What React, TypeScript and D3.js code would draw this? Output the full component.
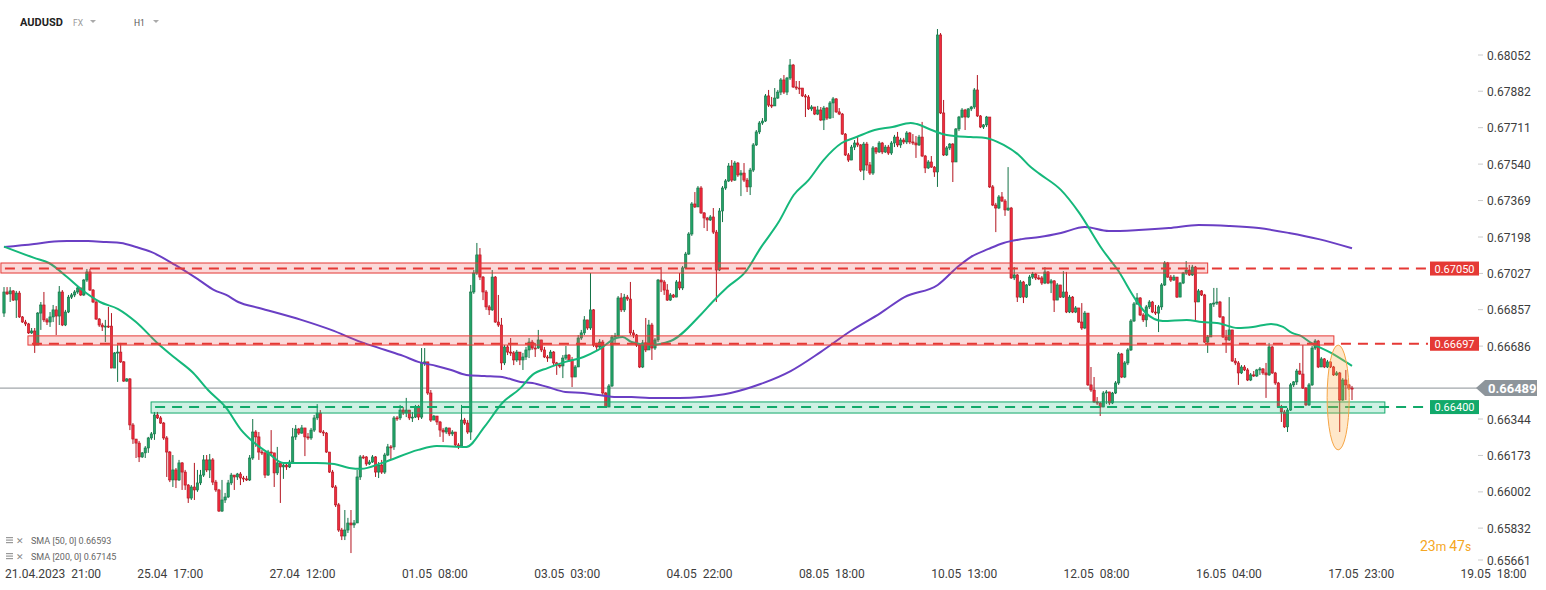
import React from "react";
import * as d3 from "d3";

const W = 1546;
const H = 590;

// ---------- DATA ----------
const firstOpen = 0.66841;

const closes = [
0.66940,0.66931,0.66945,0.66902,0.66935,0.66823,0.66799,0.66790,0.66748,0.66757,
0.66691,0.66841,0.66879,0.66809,0.66799,0.66823,0.66856,0.66827,0.66940,0.66785,
0.66846,0.66916,0.66926,0.66940,0.66959,0.66926,0.66996,0.67034,0.66949,0.66893,
0.66813,0.66785,0.66776,0.66780,0.66780,0.66583,0.66654,0.66658,0.66612,0.66522,
0.66532,0.66316,0.66250,0.66231,0.66166,0.66185,0.66208,0.66255,0.66274,0.66363,
0.66349,0.66325,0.66255,0.66189,0.66058,0.66105,0.66058,0.66138,0.66095,0.66034,
0.65973,0.66025,0.66011,0.66044,0.66081,0.66152,0.66105,0.66152,0.66048,0.66011,
0.65912,0.65964,0.65978,0.66044,0.66081,0.66072,0.66086,0.66067,0.66063,0.66058,
0.66161,0.66283,0.66260,0.66189,0.66185,0.66081,0.66189,0.66185,0.66091,0.66138,
0.66119,0.66128,0.66119,0.66142,0.66260,0.66297,0.66278,0.66302,0.66260,0.66255,
0.66292,0.66349,0.66372,0.66283,0.66278,0.66189,0.66095,0.66025,0.65941,0.65823,
0.65795,0.65823,0.65856,0.65847,0.65856,0.66072,0.66166,0.66166,0.66133,0.66142,
0.66166,0.66095,0.66128,0.66095,0.66175,0.66213,0.66213,0.66349,0.66349,0.66386,
0.66372,0.66386,0.66349,0.66353,0.66400,0.66353,0.66607,0.66612,0.66466,0.66339,
0.66358,0.66330,0.66292,0.66283,0.66302,0.66274,0.66283,0.66222,0.66217,
0.66339,0.66325,0.66283,0.66940,0.67029,0.67114,0.67010,0.66940,0.66870,0.66856,
0.67010,0.66799,0.66785,0.66607,0.66682,0.66658,0.66654,0.66621,0.66658,0.66621,
0.66635,0.66668,0.66705,0.66677,0.66677,0.66715,0.66668,0.66635,0.66630,0.66658,
0.66607,0.66597,0.66593,0.66630,0.66644,0.66621,0.66541,0.66588,0.66724,0.66748,
0.66809,0.66771,0.66856,0.66691,0.66682,0.66705,0.66466,0.66400,0.66499,0.66729,
0.66734,0.66912,0.66856,0.66916,0.66907,0.66748,0.66738,0.66691,0.66588,0.66701,
0.66668,0.66785,0.66677,0.66715,0.66996,0.66987,0.66949,0.66902,0.66926,0.66916,
0.66987,0.66959,0.67053,0.67118,0.67212,0.67353,0.67339,0.67428,0.67311,
0.67287,0.67278,0.67292,0.67221,0.67043,0.67320,0.67428,0.67461,0.67531,0.67465,
0.67545,0.67489,0.67498,0.67465,0.67433,0.67512,0.67630,0.67691,0.67733,
0.67742,0.67860,0.67817,0.67813,0.67850,0.67878,0.67935,0.67878,0.67944,0.68005,
0.67902,0.67897,0.67897,0.67860,0.67855,0.67799,0.67808,0.67775,0.67794,
0.67747,0.67803,0.67756,0.67827,0.67846,0.67785,0.67775,0.67681,0.67583,0.67559,
0.67620,0.67639,0.67630,0.67512,0.67634,0.67536,0.67498,0.67616,0.67597,
0.67639,0.67597,0.67620,0.67592,0.67639,0.67667,0.67630,0.67653,0.67644,0.67686,
0.67644,0.67639,0.67630,0.67667,0.67578,0.67522,0.67550,0.67526,0.67503,0.68146,
0.67780,0.67583,0.67616,0.67634,0.67550,0.67705,0.67761,0.67794,0.67761,0.67799,
0.67808,0.67888,0.67766,0.67714,0.67724,0.67761,0.67433,0.67348,0.67334,
0.67386,0.67367,0.67325,0.67334,0.67006,0.67020,0.66916,0.66987,0.66916,0.66973,
0.67010,0.67024,0.67006,0.67006,0.66982,0.67034,0.66982,0.66992,0.66902,
0.66973,0.66916,0.66940,0.66846,0.66916,0.66846,0.66865,0.66799,0.66771,0.66841,
0.66504,0.66480,0.66424,0.66419,0.66400,0.66466,0.66471,0.66419,0.66466,
0.66513,0.66649,0.66541,0.66607,0.66668,0.66804,0.66884,0.66912,0.66832,0.66809,
0.66870,0.66893,0.66846,0.66841,0.66870,0.66973,0.67076,0.67010,0.66996,0.67010,
0.66916,0.66982,0.67029,0.67043,0.67020,0.67057,0.66893,0.66945,0.66926,
0.66705,0.66729,0.66884,0.66888,0.66893,0.66823,0.66729,0.66715,0.66762,0.66616,
0.66607,0.66560,0.66588,0.66574,0.66527,0.66551,0.66546,0.66574,0.66579,
0.66560,0.66551,0.66682,0.66560,0.66513,0.66400,0.66377,0.66307,0.66386,0.66504,
0.66518,0.66569,0.66555,0.66489,0.66410,0.66504,0.66677,0.66710,0.66588,0.66626,
0.66588,0.66612,0.66588,0.66551,0.66560,0.66433,0.66527,0.66504,0.66489,0.66489
];

const highs = [
0.66963,0.66963,0.66963,0.66949,0.66945,0.66945,0.66827,0.66809,0.66795,0.66771,
0.66771,0.66846,0.66893,0.66940,0.66818,0.66846,0.66879,0.66874,0.66968,0.66949,
0.66856,0.66926,0.66935,0.66949,0.66968,0.66959,0.67001,0.67048,0.67048,0.66954,
0.66902,0.66818,0.66795,0.66809,0.66870,0.66841,0.66658,0.66691,0.66701,0.66616,
0.66536,0.66536,0.66325,0.66250,0.66241,0.66189,0.66217,0.66260,0.66283,0.66377,
0.66377,0.66358,0.66330,0.66264,0.66194,0.66175,0.66114,0.66152,0.66142,0.66105,
0.66039,0.66034,0.66138,0.66105,0.66105,0.66175,0.66175,0.66180,0.66161,0.66058,
0.66016,0.66058,0.65997,0.66058,0.66091,0.66081,0.66091,0.66095,0.66077,0.66077,
0.66175,0.66344,0.66292,0.66283,0.66199,0.66189,0.66199,0.66292,0.66185,0.66213,
0.66142,0.66142,0.66138,0.66152,0.66302,0.66316,0.66302,0.66316,0.66302,0.66278,
0.66302,0.66363,0.66414,0.66386,0.66292,0.66283,0.66189,0.66105,0.66034,0.65950,
0.65833,0.65917,0.65880,0.65917,0.65870,0.66105,0.66175,0.66175,0.66170,0.66152,
0.66175,0.66170,0.66142,0.66152,0.66185,0.66227,0.66222,0.66358,0.66358,0.66410,
0.66400,0.66443,0.66386,0.66377,0.66410,0.66410,0.66677,0.66677,0.66569,0.66480,
0.66363,0.66358,0.66335,0.66302,0.66307,0.66302,0.66292,0.66283,0.66231,
0.66410,0.66349,0.66339,0.66973,0.67043,0.67170,0.67146,0.67015,0.66949,0.66879,
0.67043,0.67015,0.66926,0.66818,0.66691,0.66691,0.66724,0.66663,0.66668,0.66658,
0.66654,0.66682,0.66724,0.66715,0.66701,0.66762,0.66715,0.66682,0.66644,0.66668,
0.66663,0.66612,0.66607,0.66644,0.66687,0.66649,0.66635,0.66597,0.66738,0.66762,
0.66827,0.66809,0.67029,0.66860,0.66701,0.66719,0.66715,0.66471,0.66508,0.66738,
0.66748,0.66921,0.66935,0.66931,0.66926,0.66987,0.66762,0.66743,0.66696,0.66715,
0.66818,0.66809,0.66795,0.66724,0.67001,0.67057,0.66996,0.66977,0.66935,0.66931,
0.66996,0.67029,0.67062,0.67128,0.67221,0.67362,0.67409,0.67437,0.67437,
0.67315,0.67292,0.67301,0.67334,0.67231,0.67334,0.67437,0.67470,0.67545,0.67559,
0.67555,0.67550,0.67512,0.67545,0.67475,0.67522,0.67639,0.67700,0.67742,
0.67756,0.67869,0.67888,0.67855,0.67897,0.67888,0.67944,0.67958,0.67949,0.68033,
0.68010,0.67930,0.67930,0.67897,0.67869,0.67864,0.67817,0.67808,0.67813,
0.67808,0.67813,0.67808,0.67836,0.67855,0.67850,0.67803,0.67780,0.67686,0.67592,
0.67630,0.67653,0.67667,0.67634,0.67644,0.67644,0.67550,0.67625,0.67620,
0.67648,0.67644,0.67630,0.67630,0.67648,0.67677,0.67691,0.67663,0.67663,0.67695,
0.67691,0.67681,0.67672,0.67677,0.67738,0.67583,0.67559,0.67578,0.67531,0.68174,
0.68155,0.67841,0.67625,0.67639,0.67639,0.67709,0.67766,0.67803,0.67799,0.67803,
0.67813,0.67897,0.67958,0.67770,0.67728,0.67766,0.67761,0.67442,0.67358,
0.67395,0.67409,0.67376,0.67526,0.67339,0.67057,0.67024,0.66996,0.66992,0.66977,
0.67020,0.67034,0.67029,0.67020,0.67015,0.67057,0.67038,0.67001,0.66996,
0.66982,0.66973,0.67038,0.67034,0.66926,0.66921,0.66874,0.66860,0.66888,0.66851,
0.66809,0.66588,0.66541,0.66447,0.66424,0.66475,0.66480,0.66466,0.66471,
0.66522,0.66658,0.66654,0.66616,0.66677,0.66813,0.66893,0.66935,0.66916,0.66841,
0.66879,0.66902,0.66898,0.66879,0.66879,0.66982,0.67085,0.67081,0.67020,0.67020,
0.66996,0.66987,0.67034,0.67085,0.67067,0.67067,0.67062,0.66954,0.66949,
0.66931,0.66738,0.66888,0.66959,0.66959,0.66898,0.66827,0.66762,0.66916,0.66762,
0.66630,0.66616,0.66597,0.66597,0.66583,0.66560,0.66569,0.66579,0.66588,
0.66583,0.66607,0.66701,0.66687,0.66565,0.66518,0.66410,0.66386,0.66396,0.66513,
0.66522,0.66579,0.66607,0.66691,0.66494,0.66513,0.66687,0.66719,0.66715,0.66635,
0.66630,0.66621,0.66616,0.66593,0.66569,0.66565,0.66536,0.66574,0.66508,0.66499
];

const lows = [
0.66823,0.66926,0.66893,0.66898,0.66818,0.66818,0.66795,0.66780,0.66743,0.66743,
0.66654,0.66691,0.66762,0.66799,0.66785,0.66776,0.66799,0.66738,0.66785,0.66780,
0.66780,0.66841,0.66907,0.66916,0.66931,0.66921,0.66921,0.66987,0.66945,0.66888,
0.66809,0.66776,0.66757,0.66705,0.66771,0.66583,0.66583,0.66518,0.66607,0.66518,
0.66518,0.66292,0.66227,0.66161,0.66142,0.66161,0.66161,0.66185,0.66246,0.66246,
0.66344,0.66321,0.66246,0.66072,0.66048,0.66025,0.66020,0.66053,0.66011,0.66011,
0.65950,0.65964,0.65964,0.66002,0.66034,0.66072,0.66095,0.66067,0.66034,0.66002,
0.65908,0.65908,0.65950,0.65973,0.66034,0.66011,0.66058,0.66034,0.66048,0.66053,
0.66053,0.66152,0.66213,0.66152,0.66175,0.66067,0.66077,0.66175,0.66025,0.66081,
0.65950,0.66063,0.66105,0.66114,0.66138,0.66246,0.66269,0.66274,0.66170,0.66246,
0.66246,0.66283,0.66339,0.66278,0.66264,0.66185,0.66091,0.66020,0.65931,0.65814,
0.65776,0.65776,0.65809,0.65715,0.65833,0.65856,0.66058,0.66156,0.66124,0.66128,
0.66138,0.66072,0.66067,0.66086,0.66086,0.66170,0.66152,0.66199,0.66335,0.66339,
0.66363,0.66353,0.66339,0.66330,0.66349,0.66339,0.66344,0.66593,0.66457,0.66330,
0.66339,0.66316,0.66260,0.66236,0.66274,0.66264,0.66264,0.66213,0.66203,
0.66217,0.66316,0.66274,0.66246,0.66931,0.67020,0.66996,0.66902,0.66856,0.66832,
0.66851,0.66795,0.66776,0.66574,0.66597,0.66644,0.66640,0.66597,0.66612,0.66597,
0.66574,0.66621,0.66630,0.66668,0.66635,0.66673,0.66658,0.66630,0.66612,0.66630,
0.66597,0.66551,0.66583,0.66536,0.66621,0.66612,0.66494,0.66541,0.66588,0.66715,
0.66738,0.66762,0.66762,0.66682,0.66668,0.66673,0.66457,0.66396,0.66400,0.66494,
0.66701,0.66724,0.66846,0.66846,0.66898,0.66738,0.66724,0.66682,0.66583,0.66583,
0.66658,0.66668,0.66621,0.66668,0.66705,0.66940,0.66926,0.66898,0.66898,0.66912,
0.66916,0.66949,0.66949,0.67048,0.67114,0.67203,0.67334,0.67339,0.67306,
0.67240,0.67226,0.67273,0.67212,0.66893,0.67038,0.67268,0.67419,0.67456,0.67456,
0.67461,0.67480,0.67390,0.67456,0.67409,0.67395,0.67503,0.67625,0.67681,
0.67724,0.67738,0.67808,0.67803,0.67813,0.67846,0.67864,0.67869,0.67864,0.67935,
0.67897,0.67888,0.67869,0.67855,0.67761,0.67794,0.67789,0.67770,0.67770,
0.67742,0.67700,0.67747,0.67752,0.67756,0.67780,0.67770,0.67677,0.67578,0.67550,
0.67559,0.67606,0.67620,0.67503,0.67465,0.67508,0.67489,0.67489,0.67587,
0.67592,0.67587,0.67592,0.67583,0.67583,0.67620,0.67620,0.67616,0.67634,0.67634,
0.67634,0.67630,0.67569,0.67625,0.67573,0.67498,0.67517,0.67522,0.67480,0.67433,
0.67775,0.67578,0.67578,0.67606,0.67456,0.67550,0.67695,0.67756,0.67700,0.67756,
0.67789,0.67799,0.67761,0.67709,0.67705,0.67714,0.67428,0.67343,0.67221,
0.67329,0.67362,0.67297,0.67320,0.67001,0.66996,0.66893,0.66912,0.66888,0.66912,
0.66968,0.67001,0.66996,0.66996,0.66973,0.66977,0.66977,0.66935,0.66846,
0.66902,0.66912,0.66912,0.66841,0.66841,0.66841,0.66841,0.66795,0.66762,0.66766,
0.66499,0.66471,0.66419,0.66410,0.66358,0.66400,0.66414,0.66410,0.66414,
0.66461,0.66504,0.66536,0.66536,0.66597,0.66663,0.66799,0.66879,0.66827,0.66799,
0.66776,0.66860,0.66841,0.66832,0.66752,0.66856,0.66968,0.67006,0.66987,0.66992,
0.66912,0.66916,0.66977,0.67020,0.67015,0.67015,0.66799,0.66893,0.66921,
0.66701,0.66654,0.66729,0.66870,0.66879,0.66818,0.66724,0.66654,0.66710,0.66612,
0.66597,0.66504,0.66555,0.66569,0.66522,0.66522,0.66541,0.66541,0.66551,
0.66551,0.66443,0.66546,0.66555,0.66504,0.66396,0.66330,0.66302,0.66283,0.66382,
0.66494,0.66504,0.66551,0.66485,0.66405,0.66405,0.66499,0.66668,0.66583,0.66588,
0.66583,0.66583,0.66583,0.66546,0.66546,0.66283,0.66429,0.66433,0.66480,0.66433
];

// SMA 50 (positions in trading hours from 21.04 21:00)
const sma50Hour = [-11,-1.2,3.6,9.5,14.4,20.2,26.1,31.9,38.8,44.6,50.5,55.3,61.2,66.1,70,74.8,79.7,85.6,90.5,96.3,101.2,105.1,111.9,123.6,129.5,139.2,145.1,150.9,156.8,160.7,165.6,171.4,177.3,182.1,188,190,192.9,198.7,205.6,215.3,219.2,224.1,229.9,234.8,240.7,245.6,250.4,255.3,261.2,266,271.9,277.7,283.6,285.6,290.4,295.3,303.1,308,313.8,318.7,322.6,325.5,332.4,338.2,346,350.9,356.8,359.7,365.5,373.3,378.2,383.1,389.9,394.8,400.7,404.6,407.5,410.4,413.3,420.2,427];
const sma50Val = [0.67153,0.67100,0.67076,0.67010,0.66949,0.66893,0.66860,0.66799,0.66701,0.66630,0.66560,0.66480,0.66396,0.66292,0.66236,0.66185,0.66138,0.66138,0.66138,0.66133,0.66114,0.66110,0.66138,0.66199,0.66217,0.66213,0.66307,0.66419,0.66489,0.66551,0.66583,0.66612,0.66635,0.66668,0.66724,0.66729,0.66705,0.66691,0.66710,0.66832,0.66893,0.66963,0.67034,0.67146,0.67268,0.67395,0.67465,0.67559,0.67639,0.67667,0.67700,0.67714,0.67733,0.67728,0.67700,0.67677,0.67667,0.67663,0.67630,0.67583,0.67526,0.67494,0.67419,0.67315,0.67137,0.67043,0.66902,0.66846,0.66804,0.66809,0.66799,0.66795,0.66771,0.66776,0.66790,0.66776,0.66748,0.66734,0.66705,0.66654,0.66593];

// SMA 200
const sma200Hour = [-11,-1.2,3.6,9.5,16.3,22.2,27,31.9,36.8,44.6,52.4,57.3,61.2,65.1,71.9,85.6,95.3,105.1,112.9,118.7,123.6,129.5,134.3,139.2,145.1,150.9,156.8,160.7,165.6,171.4,177.3,182.1,188,192.9,198.7,208.5,215.3,225.1,234.8,244.6,254.3,264.1,273.8,281.6,292.4,299.2,303.1,308.9,313.8,319.7,325.5,332.4,340.2,348,357.7,367.5,377.2,387,396.7,406.5,416.2,427];
const sma200Val = [0.67151,0.67165,0.67174,0.67179,0.67179,0.67174,0.67170,0.67151,0.67128,0.67067,0.66996,0.66949,0.66926,0.66893,0.66865,0.66809,0.66762,0.66705,0.66668,0.66640,0.66612,0.66593,0.66574,0.66551,0.66546,0.66541,0.66518,0.66513,0.66494,0.66471,0.66466,0.66457,0.66447,0.66447,0.66443,0.66443,0.66447,0.66466,0.66508,0.66569,0.66658,0.66757,0.66841,0.66916,0.66973,0.67062,0.67104,0.67142,0.67170,0.67188,0.67198,0.67217,0.67245,0.67226,0.67231,0.67240,0.67254,0.67250,0.67240,0.67217,0.67188,0.67145];

// Support / resistance zones (extent in candle index)
const zoneLevel = [0.67050, 0.66697, 0.66400];
const zoneTop = [0.67076, 0.66734, 0.66424];
const zoneBottom = [0.67029, 0.66691, 0.66372];
const zoneFrom = [-1, 7.8, 47.9];
const zoneTo = [392, 433.1, 449.7];
const zoneType = ["res", "res", "sup"];

const lastPrice = 0.66489;
const ellipseIdx = [430.9, 438.1];
const ellipsePrice = [0.66691, 0.66199];

const priceTicks = [0.68052, 0.67882, 0.67711, 0.6754, 0.67369, 0.67198, 0.67027, 0.66857, 0.66686, 0.66515, 0.66344, 0.66173, 0.66002, 0.65832, 0.65661];
const timeTickHours = [0, 43, 86, 129, 172, 215, 258, 301, 344, 387, 430, 473];
const timeTickLabels = ["21.04.2023  21:00", "25.04  17:00", "27.04  12:00", "01.05  08:00", "03.05  03:00", "04.05  22:00", "08.05  18:00", "10.05  13:00", "12.05  08:00", "16.05  04:00", "17.05  23:00", "19.05  18:00"];
const firstHour = -11;
const lastHour = 427;

const smaLegend = [
  { name: "SMA [50, 0]", value: "0.66593" },
  { name: "SMA [200, 0]", value: "0.67145" },
];

const FONT = "Roboto, 'Open Sans', Arial, sans-serif";

export default function App() {
  const N = closes.length;
  const x = d3.scaleLinear().domain([0, N - 1]).range([4, 1352]);
  const y = d3.scaleLinear().domain([0.68052, 0.66344]).range([55, 419]);
  const t = d3.scaleLinear().domain([firstHour, lastHour]).range([4, 1352]);
  const step = x(1) - x(0);
  const bw = step * 0.76;

  const candles = closes.map((c, i) => {
    const o = i === 0 ? firstOpen : closes[i - 1];
    const hi = Math.max(highs[i], o, c);
    const lo = Math.min(lows[i], o, c);
    return { i, o, c, hi, lo, up: c > o };
  });

  const line = d3
    .line<[number, number]>()
    .x((d) => t(d[0]))
    .y((d) => y(d[1]))
    .curve(d3.curveMonotoneX);

  const sma50 = line(sma50Hour.map((v, k) => [v, sma50Val[k]]));
  const sma200 = line(sma200Hour.map((v, k) => [v, sma200Val[k]]));

  const ex0 = x(ellipseIdx[0]);
  const ex1 = x(ellipseIdx[1]);
  const ey0 = y(ellipsePrice[0]);
  const ey1 = y(ellipsePrice[1]);

  const lastY = y(lastPrice);

  return (
    <div style={{ position: "absolute", left: 0, top: 0, width: W, height: H, background: "#fff" }}>
      <svg width={W} height={H} style={{ display: "block", fontFamily: FONT }}>
        <rect x={0} y={0} width={W} height={H} fill="#ffffff" />

        {/* header */}
        <text x={20} y={26} fontSize={11} fontWeight={700} fill="#222">AUDUSD</text>
        <text x={73} y={26} fontSize={8.5} fill="#999">FX</text>
        <path d="M90,20 L96,20 L93,23 Z" fill="#aaa" />
        <text x={134} y={26} fontSize={8.5} fill="#555">H1</text>
        <path d="M153,20 L159,20 L156,23 Z" fill="#aaa" />

        {/* current price line */}
        <line x1={0} x2={1478} y1={lastY} y2={lastY} stroke="#8a9096" strokeWidth={1} />

        {/* candles */}
        <g>
          {candles.map((d) => {
            const cx = x(d.i);
            const top = y(Math.max(d.o, d.c));
            const bot = y(Math.min(d.o, d.c));
            const fill = d.up ? "#22a267" : "#ee2b3d";
            const stroke = d.up ? "#137246" : "#b3141f";
            return (
              <g key={d.i}>
                <line x1={cx} x2={cx} y1={y(d.hi)} y2={y(d.lo)} stroke={stroke} strokeWidth={1} />
                <rect x={cx - bw / 2} y={top} width={bw} height={Math.max(1, bot - top)} fill={fill} stroke={stroke} strokeWidth={0.6} />
              </g>
            );
          })}
        </g>

        {/* moving averages */}
        <path d={sma200 || ""} fill="none" stroke="#6a3fc4" strokeWidth={2} />
        <path d={sma50 || ""} fill="none" stroke="#15b87b" strokeWidth={2} />

        {/* zones */}
        {zoneLevel.map((lv, k) => {
          const red = zoneType[k] === "res";
          const x0 = x(zoneFrom[k]);
          const x1 = x(zoneTo[k]);
          const yt = y(zoneTop[k]);
          const yb = y(zoneBottom[k]);
          const col = red ? "#e53935" : "#12a96a";
          return (
            <g key={k}>
              <rect x={x0} y={yt} width={x1 - x0} height={yb - yt} fill={red ? "rgba(239,83,80,0.22)" : "rgba(38,190,130,0.22)"} stroke={col} strokeWidth={1} />
              <line x1={x0 + 4} x2={1428} y1={y(lv)} y2={y(lv)} stroke={col} strokeWidth={2} strokeDasharray="10 7" />
            </g>
          );
        })}

        {/* highlight ellipse */}
        <ellipse cx={(ex0 + ex1) / 2} cy={(ey0 + ey1) / 2} rx={(ex1 - ex0) / 2} ry={(ey1 - ey0) / 2} fill="rgba(255,170,60,0.28)" stroke="#f6a545" strokeWidth={1} />

        {/* right axis (label hidden under the last-price tag is skipped, as in the original) */}
        {priceTicks
          .filter((p) => Math.abs(y(p) - lastY) > 9)
          .map((p) => {
            const yy = Math.min(y(p), 560);
            return (
              <g key={p}>
                <line x1={1478} x2={1483} y1={yy} y2={yy} stroke="#ccc" />
                <text x={1487} y={yy + 4.5} fontSize={12} fill="#3d3d3d">{p.toFixed(5)}</text>
              </g>
            );
          })}

        {/* zone price tags */}
        {zoneLevel.map((lv, k) => {
          const red = zoneType[k] === "res";
          const yy = y(lv);
          return (
            <g key={"tag" + k}>
              <rect x={1430} y={yy - 7} width={49} height={14} fill={red ? "#e53935" : "#12a96a"} />
              <text x={1454.5} y={yy + 4} fontSize={11} fill="#fff" textAnchor="middle">{lv.toFixed(5)}</text>
            </g>
          );
        })}

        {/* last price tag */}
        <path d={`M1476,${lastY} L1485,${lastY - 8} L1537,${lastY - 8} L1537,${lastY + 8} L1485,${lastY + 8} Z`} fill="#8d959b" />
        <text x={1488} y={lastY + 4.5} fontSize={13} fontWeight={700} fill="#fff">{lastPrice.toFixed(5)}</text>

        {/* time axis */}
        {timeTickHours.map((h, k) => (
          <text key={h} x={k === 0 ? 5 : t(h)} y={578} fontSize={12} fill="#3d3d3d" textAnchor={k === 0 ? "start" : "middle"} style={{ whiteSpace: "pre" }}>
            {timeTickLabels[k]}
          </text>
        ))}

        {/* legend */}
        {smaLegend.map((s, k) => {
          const yy = 541 + k * 16;
          return (
            <g key={s.name}>
              <rect x={6} y={yy - 4} width={7} height={1.2} fill="#999" />
              <rect x={6} y={yy - 1.5} width={7} height={1.2} fill="#999" />
              <rect x={6} y={yy + 1} width={7} height={1.2} fill="#999" />
              <text x={16} y={yy + 3} fontSize={9} fill="#888">✕</text>
              <text x={31} y={yy + 3} fontSize={9} fill="#666">{s.name}  {s.value}</text>
            </g>
          );
        })}

        {/* timer */}
        <text x={1420} y={551} fill="#f5a623">
          <tspan fontSize={14}>23</tspan>
          <tspan fontSize={12}>m </tspan>
          <tspan fontSize={14}>47</tspan>
          <tspan fontSize={12}>s</tspan>
        </text>
      </svg>
    </div>
  );
}
